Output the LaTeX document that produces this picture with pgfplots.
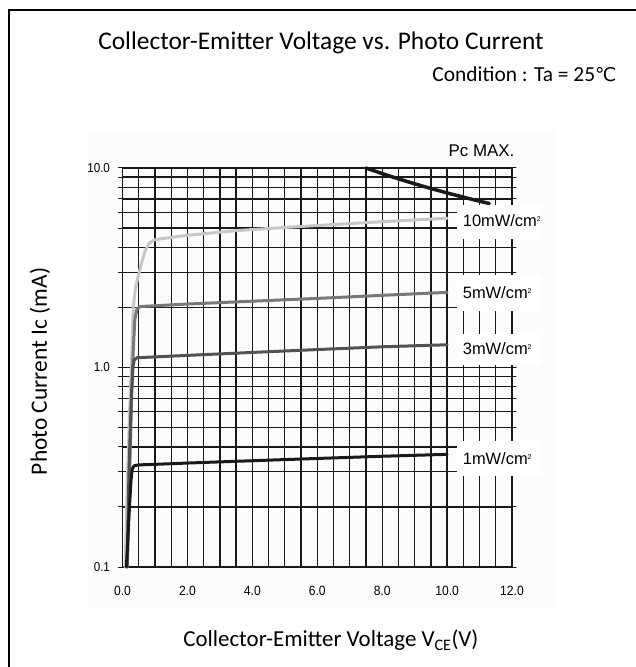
\documentclass[border=0pt]{standalone}
\usepackage{pgfplots}
\pgfplotsset{compat=1.18}
\usepackage{fontspec}
\setmainfont{Carlito}
\newfontfamily\narrow[FakeStretch=0.9]{Liberation Sans}
\newfontfamily\lab{Liberation Sans}
\newfontfamily\dejavu{DejaVu Sans}
\definecolor{cten}{gray}{0.78}
\definecolor{cfive}{gray}{0.47}
\definecolor{cthree}{gray}{0.32}
\definecolor{cone}{gray}{0.10}
\definecolor{gridc}{gray}{0.10}
\newcommand{\sq}{{\fontsize{7}{7}\selectfont\raisebox{1.3ex}{2}}}
\begin{document}
\begin{tikzpicture}
\useasboundingbox (0,0) rectangle (636bp,667bp);
\fill[gray!2.5] (87bp,59bp) rectangle (555bp,537bp);
\draw[line width=2bp,black] (9bp,0bp) -- (9bp,657bp) -- (636bp,657bp);
\node[anchor=center,font=\fontsize{25.5}{25.5}\selectfont] at (321bp,624bp) {Collector-Emitter Voltage vs. Photo Current};
\node[anchor=east,font=\fontsize{21.5}{21.5}\selectfont] at (620bp,593bp) {Condition : Ta = 25{\dejavu\fontsize{19}{19}\selectfont ℃}};
\begin{axis}[
  at={(122.5bp,100bp)}, anchor=south west,
  scale only axis, width=389.5bp, height=399bp,
  xmin=0, xmax=12, ymode=log, ymin=0.1, ymax=10,
  xtick={0,2,4,6,8,10,12},
  xticklabels={0.0,2.0,4.0,6.0,8.0,10.0,12.0},
  minor x tick num=3,
  ytick={0.1,1,10}, yticklabels={0.1,1.0,10.0},
  grid=both,
  major grid style={gridc, line width=1.3bp},
  minor grid style={gridc, line width=1.3bp},
  axis line style={gridc, line width=1.3bp},
  tick align=outside,
  major tick length=4bp, minor tick length=4bp,
  every tick/.style={gridc, line width=1bp},
  xtick style={draw=none},
  minor x tick style={draw=none},
  xticklabel style={font=\narrow\fontsize{13.5}{13.5}\selectfont, yshift=-12bp},
  yticklabel style={font=\narrow\fontsize{13}{13}\selectfont, xshift=-5bp},
  xlabel={Collector-Emitter Voltage V\textsubscript{CE}(V)},
  xlabel style={at={(axis description cs:0.535,-0.183)}, anchor=center, font=\fontsize{23}{23}\selectfont},
  ylabel={Photo Current Ic (mA)},
  ylabel style={at={(axis description cs:-0.212,0.49)}, anchor=center, font=\fontsize{23.5}{23.5}\selectfont},
  clip=false,
  line join=round, line cap=round,
]
\addplot[cten, line width=3bp] coordinates {(0.08,0.1)(0.16,0.3)(0.22,0.6)(0.28,1.1)(0.33,2.0)(0.40,2.5)(0.48,2.85)(0.6,3.4)(0.7,3.85)(0.8,4.15)(0.95,4.35)(1.2,4.42)(2.0,4.6)(3.6,4.87)(6,5.15)(8,5.38)(10,5.6)};
\addplot[cfive, line width=3bp] coordinates {(0.15,0.1)(0.22,0.3)(0.28,0.7)(0.33,1.2)(0.38,1.75)(0.45,1.97)(0.55,2.02)(1,2.04)(2,2.08)(4,2.15)(6,2.22)(8,2.3)(10,2.38)};
\addplot[cthree, line width=3bp] coordinates {(0.14,0.1)(0.2,0.3)(0.27,0.7)(0.32,1.0)(0.36,1.09)(0.45,1.12)(1,1.13)(2,1.15)(4,1.19)(6,1.23)(8,1.27)(10,1.30)};
\addplot[cone, line width=3bp] coordinates {(0.12,0.1)(0.2,0.18)(0.26,0.27)(0.3,0.31)(0.36,0.322)(0.5,0.325)(1,0.327)(2,0.332)(4,0.341)(6,0.35)(8,0.359)(10,0.367)};
\addplot[cone, line width=3.5bp] coordinates {(7.5,10)(8,9.375)(8.5,8.824)(9,8.333)(9.5,7.895)(10,7.5)(10.5,7.143)(11,6.818)(11.3,6.64)};
\fill[white] (axis cs:10.3,4.43) rectangle (axis cs:12.9,6.55);
\fill[white] (axis cs:10.3,1.93) rectangle (axis cs:12.9,2.9);
\fill[white] (axis cs:10.3,1.03) rectangle (axis cs:12.9,1.48);
\fill[white] (axis cs:10.3,0.285) rectangle (axis cs:12.9,0.43);
\node[anchor=west, inner sep=0pt, font=\lab\fontsize{16.5}{16.5}\selectfont] at (axis cs:10.48,5.46) {10mW/cm\sq};
\node[anchor=west, inner sep=0pt, font=\lab\fontsize{16.5}{16.5}\selectfont] at (axis cs:10.48,2.38) {5mW/cm\sq};
\node[anchor=west, inner sep=0pt, font=\lab\fontsize{16.5}{16.5}\selectfont] at (axis cs:10.48,1.245) {3mW/cm\sq};
\node[anchor=west, inner sep=0pt, font=\lab\fontsize{16.5}{16.5}\selectfont] at (axis cs:10.48,0.35) {1mW/cm\sq};
\node[anchor=center, font=\lab\fontsize{17}{17}\selectfont] at (axis cs:11.06,12.2) {Pc MAX.};
\end{axis}
\end{tikzpicture}
\end{document}
